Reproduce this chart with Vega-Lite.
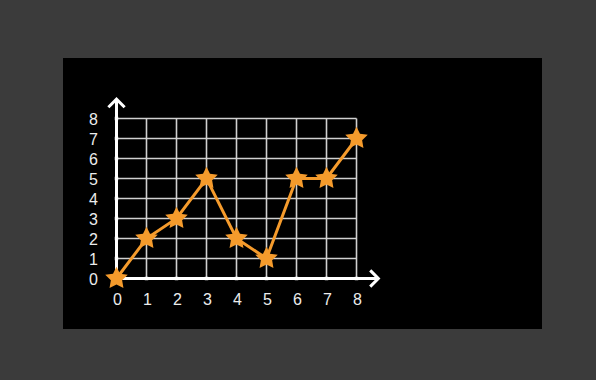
{
  "$schema": "https://vega.github.io/schema/vega-lite/v6.json",
  "width": 479,
  "height": 271,
  "autosize": {"type": "none"},
  "padding": {"left": 63, "top": 58, "right": 54, "bottom": 51},
  "background": "#3b3b3b",
  "config": {"view": {"fill": "#000000", "stroke": null}},
  "datasets": {
    "points": [
      {"x": 0, "y": 0}, {"x": 1, "y": 2}, {"x": 2, "y": 3}, {"x": 3, "y": 5},
      {"x": 4, "y": 2}, {"x": 5, "y": 1}, {"x": 6, "y": 5}, {"x": 7, "y": 5}, {"x": 8, "y": 7}
    ],
    "grid": [
      {"x": 1, "x2": 1, "y": 0, "y2": 8}, {"x": 2, "x2": 2, "y": 0, "y2": 8},
      {"x": 3, "x2": 3, "y": 0, "y2": 8}, {"x": 4, "x2": 4, "y": 0, "y2": 8},
      {"x": 5, "x2": 5, "y": 0, "y2": 8}, {"x": 6, "x2": 6, "y": 0, "y2": 8},
      {"x": 7, "x2": 7, "y": 0, "y2": 8}, {"x": 8, "x2": 8, "y": 0, "y2": 8},
      {"x": 0, "x2": 8, "y": 1, "y2": 1}, {"x": 0, "x2": 8, "y": 2, "y2": 2},
      {"x": 0, "x2": 8, "y": 3, "y2": 3}, {"x": 0, "x2": 8, "y": 4, "y2": 4},
      {"x": 0, "x2": 8, "y": 5, "y2": 5}, {"x": 0, "x2": 8, "y": 6, "y2": 6},
      {"x": 0, "x2": 8, "y": 7, "y2": 7}, {"x": 0, "x2": 8, "y": 8, "y2": 8}
    ],
    "axes": [
      {"x": 0, "x2": 0, "y": 0, "y2": 8.96},
      {"x": 0, "x2": 8.73, "y": 0, "y2": 0}
    ],
    "arrowUp": [{"x": 0, "y": 8.79}],
    "arrowRight": [{"x": 8.61, "y": 0}],
    "ticks": [
      {"v": 0, "label": "0"}, {"v": 1, "label": "1"}, {"v": 2, "label": "2"},
      {"v": 3, "label": "3"}, {"v": 4, "label": "4"}, {"v": 5, "label": "5"},
      {"v": 6, "label": "6"}, {"v": 7, "label": "7"}, {"v": 8, "label": "8"}
    ]
  },
  "layer": [
    {
      "data": {"name": "grid"},
      "mark": {"type": "rule", "color": "#d0d0d0", "strokeWidth": 1.6},
      "encoding": {
        "x": {"field": "x", "type": "quantitative", "scale": {"domain": [-1.783, 14.183], "nice": false, "zero": false}, "axis": null},
        "x2": {"field": "x2"},
        "y": {"field": "y", "type": "quantitative", "scale": {"domain": [-2.525, 11.025], "nice": false, "zero": false}, "axis": null},
        "y2": {"field": "y2"}
      }
    },
    {
      "data": {"name": "axes"},
      "mark": {"type": "rule", "color": "#ffffff", "strokeWidth": 3},
      "encoding": {
        "x": {"field": "x", "type": "quantitative"},
        "x2": {"field": "x2"},
        "y": {"field": "y", "type": "quantitative"},
        "y2": {"field": "y2"}
      }
    },
    {
      "data": {"name": "ticks"},
      "mark": {"type": "point", "shape": "square", "filled": true, "color": "#ffffff", "size": 12, "opacity": 1},
      "encoding": {
        "x": {"field": "v", "type": "quantitative"},
        "y": {"datum": 0, "type": "quantitative"}
      }
    },
    {
      "data": {"name": "ticks"},
      "mark": {"type": "point", "shape": "square", "filled": true, "color": "#ffffff", "size": 12, "opacity": 1},
      "encoding": {
        "x": {"datum": 0, "type": "quantitative"},
        "y": {"field": "v", "type": "quantitative"}
      }
    },
    {
      "data": {"name": "arrowUp"},
      "mark": {"type": "point", "shape": "M-1,0.5L0,-0.5L1,0.5", "filled": false, "stroke": "#ffffff", "strokeWidth": 3, "size": 200, "opacity": 1, "strokeCap": "square"},
      "encoding": {
        "x": {"field": "x", "type": "quantitative"},
        "y": {"field": "y", "type": "quantitative"}
      }
    },
    {
      "data": {"name": "arrowRight"},
      "mark": {"type": "point", "shape": "M-0.5,-1L0.5,0L-0.5,1", "filled": false, "stroke": "#ffffff", "strokeWidth": 3, "size": 200, "opacity": 1, "strokeCap": "square"},
      "encoding": {
        "x": {"field": "x", "type": "quantitative"},
        "y": {"field": "y", "type": "quantitative"}
      }
    },
    {
      "data": {"name": "ticks"},
      "mark": {"type": "text", "color": "#ececec", "font": "Liberation Sans", "fontSize": 16, "align": "center", "baseline": "middle", "dx": -23, "dy": 1},
      "encoding": {
        "x": {"datum": 0, "type": "quantitative"},
        "y": {"field": "v", "type": "quantitative"},
        "text": {"field": "label"}
      }
    },
    {
      "data": {"name": "ticks"},
      "mark": {"type": "text", "color": "#ececec", "font": "Liberation Sans", "fontSize": 16, "align": "center", "baseline": "middle", "dy": 21, "dx": 1},
      "encoding": {
        "x": {"field": "v", "type": "quantitative"},
        "y": {"datum": 0, "type": "quantitative"},
        "text": {"field": "label"}
      }
    },
    {
      "data": {"name": "points"},
      "mark": {"type": "line", "color": "#f59b2c", "strokeWidth": 3},
      "encoding": {
        "x": {"field": "x", "type": "quantitative"},
        "y": {"field": "y", "type": "quantitative"}
      }
    },
    {
      "data": {"name": "points"},
      "mark": {"type": "point", "shape": "M0,-1L0.294,-0.405L0.951,-0.309L0.476,0.155L0.588,0.809L0,0.5L-0.588,0.809L-0.476,0.155L-0.951,-0.309L-0.294,-0.405Z", "filled": true, "color": "#f59b2c", "size": 560, "opacity": 1},
      "encoding": {
        "x": {"field": "x", "type": "quantitative"},
        "y": {"field": "y", "type": "quantitative"}
      }
    }
  ]
}
